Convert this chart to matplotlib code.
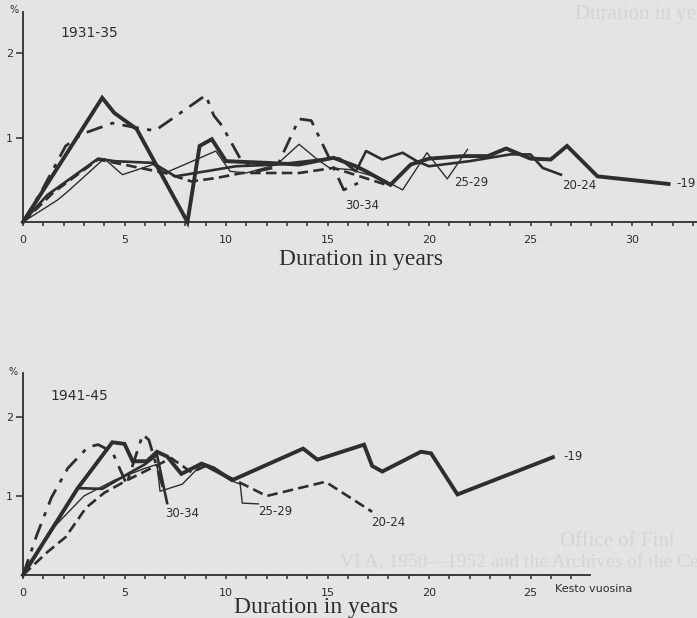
import matplotlib
matplotlib.use("Agg")
import matplotlib.pyplot as plt

# 1931-35 panel (duration in years, %)
top_m19_x = [0, 3.9, 4.5, 5.6, 8.1, 8.7, 9.3, 10.0, 12.0, 13.6, 15.3, 16.4, 16.9, 18.1, 19.1,
             20.0, 21.7, 22.9, 23.8, 25.0, 26.0, 26.8, 28.3, 31.8]
top_m19_y = [0, 1.47, 1.29, 1.1, 0.0, 0.9, 0.98, 0.72, 0.7, 0.68, 0.76, 0.66, 0.6, 0.44, 0.68,
             0.75, 0.78, 0.78, 0.87, 0.75, 0.74, 0.9, 0.54, 0.45]
top_2024_x = [0, 1.2, 3.7, 4.5, 6.4, 7.5, 9.0, 10.5, 12.5, 15.1, 15.6, 16.4, 16.9, 17.7, 18.7,
              19.4, 20.0, 22.0, 24.0, 25.0, 25.6, 26.5]
top_2024_y = [0, 0.32, 0.75, 0.72, 0.7, 0.54, 0.6, 0.66, 0.68, 0.75, 0.75, 0.6, 0.84, 0.74, 0.82,
              0.72, 0.66, 0.72, 0.8, 0.8, 0.64, 0.56]
top_2529_x = [0, 1.7, 2.2, 4.0, 4.9, 6.4, 7.0, 9.5, 10.2, 11.0, 12.5, 13.6, 14.5, 15.1, 16.1,
              17.6, 18.7, 19.9, 20.9, 21.9]
top_2529_y = [0, 0.26, 0.36, 0.75, 0.56, 0.68, 0.58, 0.84, 0.6, 0.58, 0.68, 0.92, 0.74, 0.64, 0.62,
              0.52, 0.38, 0.82, 0.51, 0.86]
top_dash_x = [0, 1.5, 3.7, 7.0, 8.3, 9.5, 10.8, 13.6, 15.3, 16.6, 17.9]
top_dash_y = [0, 0.35, 0.74, 0.58, 0.48, 0.52, 0.58, 0.58, 0.64, 0.54, 0.44]
top_3034_x = [0, 0.9, 2.1, 2.9, 4.4, 5.5, 6.5, 9.0, 9.4, 9.8, 10.7, 11.5, 12.5, 13.6, 14.2,
              15.0, 15.8, 16.5]
top_3034_y = [0, 0.36, 0.9, 1.04, 1.17, 1.12, 1.08, 1.5, 1.26, 1.14, 0.75, 0.6, 0.65, 1.22, 1.2,
              0.8, 0.38, 0.46]

# 1941-45 panel
bot_m19_x = [0, 2.7, 4.4, 5.0, 5.4, 6.1, 6.6, 7.1, 7.8, 8.8, 9.4, 10.3, 13.8, 14.5, 16.8,
             17.2, 17.7, 19.6, 20.1, 21.4, 26.1]
bot_m19_y = [0, 1.1, 1.68, 1.66, 1.44, 1.44, 1.56, 1.5, 1.28, 1.41, 1.35, 1.2, 1.6, 1.46, 1.65,
             1.38, 1.31, 1.56, 1.54, 1.02, 1.49]
bot_2024_x = [0, 1.2, 2.1, 3.1, 4.0, 5.2, 6.3, 7.3, 8.3, 9.0, 10.3, 12.0, 14.9, 17.2]
bot_2024_y = [0, 0.29, 0.48, 0.85, 1.04, 1.21, 1.35, 1.48, 1.3, 1.38, 1.22, 1.0, 1.18, 0.8]
bot_2529_x = [0, 1.5, 3.0, 4.5, 6.0, 6.6, 6.75, 7.85, 8.8, 10.3, 10.7, 10.8, 11.6]
bot_2529_y = [0, 0.6, 1.0, 1.2, 1.35, 1.4, 1.06, 1.15, 1.4, 1.19, 1.15, 0.91, 0.9]
bot_3034_x = [0, 2.7, 3.9, 5.3, 6.0, 6.6, 7.1]
bot_3034_y = [0, 1.1, 1.09, 1.3, 1.4, 1.52, 0.91]
bot_dd_x = [0, 0.7, 1.4, 2.2, 3.2, 3.7, 4.4, 5.1, 5.9, 6.2, 6.9]
bot_dd_y = [0, 0.52, 0.98, 1.35, 1.62, 1.65, 1.56, 1.15, 1.78, 1.71, 1.1]

ink = "#2e2e2e"
paper = "#e4e4e2"
faint = "#d4d4d2"
W, H = 697, 618

fig = plt.figure(figsize=(W / 100, H / 100), dpi=100, facecolor=paper)


def px_axes(left, right, top, bottom):
    return fig.add_axes([left / W, 1 - bottom / H, (right - left) / W, (bottom - top) / H])


def style(ax, xmax, ymax):
    ax.set_facecolor("none")
    ax.set_xlim(0, xmax)
    ax.set_ylim(0, ymax)
    for s in ["top", "right"]:
        ax.spines[s].set_visible(False)
    for s in ["left", "bottom"]:
        ax.spines[s].set_color(ink)
        ax.spines[s].set_linewidth(1.3)
    n = int(xmax)
    ax.set_xticks(range(0, n + 1))
    ax.set_xticklabels([str(i) if i % 5 == 0 else "" for i in range(0, n + 1)])
    ax.set_yticks([1, 2])
    ax.set_yticklabels(["1", "2"])
    ax.tick_params(axis="x", direction="out", length=3, width=1.1, color=ink,
                   labelsize=8, labelcolor=ink, pad=6)
    ax.tick_params(axis="y", direction="out", length=5, width=1.1, color=ink,
                   labelsize=8, labelcolor=ink, pad=2)


def draw(ax, x, y, kind):
    if kind == "thick":
        ax.plot(x, y, color=ink, lw=2.8, solid_joinstyle="miter", clip_on=False)
    elif kind == "medium":
        ax.plot(x, y, color=ink, lw=1.9, clip_on=False)
    elif kind == "thin":
        ax.plot(x, y, color=ink, lw=1.0, clip_on=False)
    elif kind == "dashed":
        ax.plot(x, y, color=ink, lw=1.9, dashes=(4, 2), clip_on=False)
    elif kind == "dashdot":
        ax.plot(x, y, color=ink, lw=2.0, dashes=(6, 3, 1.5, 3), clip_on=False)


lab = dict(fontsize=8.5, color=ink, ha="center", va="center")

# top panel
ax1 = px_axes(23, 697, 12, 222)
style(ax1, (697 - 23) / 20.3, 210 / 84.5)
draw(ax1, top_dash_x, top_dash_y, "dashed")
draw(ax1, top_2529_x, top_2529_y, "thin")
draw(ax1, top_2024_x, top_2024_y, "medium")
draw(ax1, top_3034_x, top_3034_y, "dashdot")
draw(ax1, top_m19_x, top_m19_y, "thick")
ax1.text(16.7, 0.2, "30-34", **lab)
ax1.text(22.1, 0.47, "25-29", **lab)
ax1.text(27.4, 0.43, "20-24", **lab)
ax1.text(32.2, 0.46, "-19", fontsize=8.5, color=ink, ha="left", va="center")

# bottom panel
ax2 = px_axes(23, 590, 373, 575)
style(ax2, 27.93, 202 / 79)
draw(ax2, bot_2024_x, bot_2024_y, "dashed")
draw(ax2, bot_2529_x, bot_2529_y, "thin")
draw(ax2, bot_3034_x, bot_3034_y, "medium")
draw(ax2, bot_dd_x, bot_dd_y, "dashdot")
draw(ax2, bot_m19_x, bot_m19_y, "thick")
ax2.text(7.85, 0.78, "30-34", **lab)
ax2.text(12.45, 0.8, "25-29", **lab)
ax2.text(18.0, 0.67, "20-24", **lab)
ax2.text(26.6, 1.5, "-19", fontsize=8.5, color=ink, ha="left", va="center")


def ftext(x, y, s, **kw):
    fig.text(x / W, 1 - y / H, s, **kw)


# faint print showing through from the next page
serif = "Liberation Serif"
ftext(575, 14, "Duration in years", fontsize=15, family=serif, color=faint, va="center")
ftext(560, 541, "Office of Finl", fontsize=15, family=serif, color=faint, va="center")
ftext(340, 563, "VI A, 1950\u20141952 and the Archives of the Central Statistical Office. F",
      fontsize=14, family=serif, color=faint, va="center")

# printed texts
ftext(14, 10, "%", fontsize=7, color=ink, va="center", ha="center")
ftext(13, 372, "%", fontsize=7, color=ink, va="center", ha="center")
ftext(60, 33, "1931-35", fontsize=10, color=ink, va="center")
ftext(50, 396, "1941-45", fontsize=10, color=ink, va="center")
ftext(361, 260, "Duration in years", fontsize=17, family=serif, color=ink, va="center", ha="center")
ftext(316, 607, "Duration in years", fontsize=17, family=serif, color=ink, va="center", ha="center")
ftext(555, 589, "Kesto vuosina", fontsize=8, color=ink, va="center")

fig.savefig("out.png", dpi=100, facecolor=paper)
